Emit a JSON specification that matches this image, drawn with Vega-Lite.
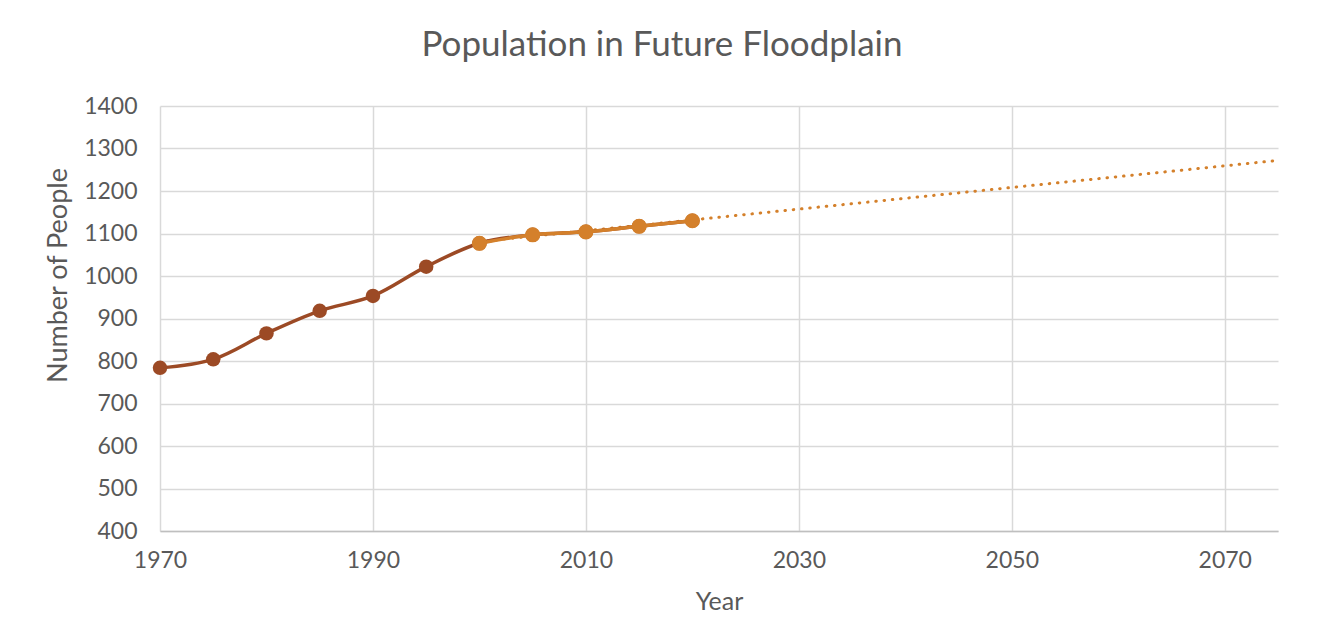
{
  "$schema": "https://vega.github.io/schema/vega-lite/v6.json",
  "autosize": {"type": "none"},
  "padding": {"left": 160, "top": 106, "right": 55, "bottom": 113},
  "width": 1118,
  "height": 425,
  "background": "white",
  "config": {
    "view": {"stroke": null},
    "font": "Lato",
    "axis": {"labelFont": "Lato", "titleFont": "Lato", "labelColor": "#595959", "titleColor": "#595959", "titleFontWeight": "normal", "gridColor": "#d9d9d9", "gridWidth": 1.5, "ticks": false}
  },
  "title": {
    "text": "Population in Future Floodplain",
    "font": "Lato",
    "fontSize": 35,
    "fontWeight": "normal",
    "color": "#595959",
    "anchor": "middle",
    "frame": "group",
    "dx": -57,
    "baseline": "alphabetic",
    "offset": 4
  },
  "datasets": {
    "pop": [
      {"year": 1970, "people": 784, "series": "Historic"},
      {"year": 1975, "people": 804, "series": "Historic"},
      {"year": 1980, "people": 865, "series": "Historic"},
      {"year": 1985, "people": 918, "series": "Historic"},
      {"year": 1990, "people": 953, "series": "Historic"},
      {"year": 1995, "people": 1022, "series": "Historic"},
      {"year": 2000, "people": 1077, "series": "Historic"},
      {"year": 2005, "people": 1097, "series": "Historic"},
      {"year": 2010, "people": 1104, "series": "Historic"},
      {"year": 2015, "people": 1117, "series": "Historic"},
      {"year": 2020, "people": 1130, "series": "Historic"},
      {"year": 2000, "people": 1077, "series": "Recent"},
      {"year": 2005, "people": 1097, "series": "Recent"},
      {"year": 2010, "people": 1104, "series": "Recent"},
      {"year": 2015, "people": 1117, "series": "Recent"},
      {"year": 2020, "people": 1130, "series": "Recent"}
    ],
    "trend": [
      {"year": 2000, "people": 1081},
      {"year": 2075, "people": 1272}
    ]
  },
  "encoding": {
    "x": {
      "field": "year", "type": "quantitative",
      "scale": {"domain": [1970, 2075], "nice": false, "zero": false},
      "axis": {"title": "Year", "values": [1970, 1990, 2010, 2030, 2050, 2070], "format": "d", "labelFontSize": 23, "labelPadding": 18, "titleFontSize": 25, "titleY": 70, "titleBaseline": "middle", "domainColor": "#bfbfbf", "domainWidth": 1.5, "labelFlush": false}
    },
    "y": {
      "field": "people", "type": "quantitative",
      "scale": {"domain": [400, 1400], "nice": false, "zero": false},
      "axis": {"title": "Number of People", "values": [400, 500, 600, 700, 800, 900, 1000, 1100, 1200, 1300, 1400], "format": "d", "labelFontSize": 23, "labelPadding": 23, "domain": false, "titleFontSize": 27, "titleAngle": -90, "titleX": -102, "titleY": 169, "titleAlign": "center", "titleBaseline": "middle"}
    }
  },
  "layer": [
    {
      "data": {"name": "trend"},
      "mark": {"type": "line", "color": "#D4802B", "strokeWidth": 3, "strokeDash": [0.5, 7.8], "strokeCap": "round"},
      "encoding": {}
    },
    {
      "data": {"name": "pop"},
      "transform": [{"filter": "datum.series === 'Historic'"}],
      "mark": {"type": "line", "color": "#9C4A25", "strokeWidth": 3.5, "interpolate": "catmull-rom", "point": {"filled": true, "size": 210, "color": "#9C4A25"}},
      "encoding": {}
    },
    {
      "data": {"name": "pop"},
      "transform": [{"filter": "datum.series === 'Recent'"}],
      "mark": {"type": "line", "color": "#D4802B", "strokeWidth": 3.5, "interpolate": "catmull-rom", "point": {"filled": true, "size": 230, "color": "#D4802B"}},
      "encoding": {}
    }
  ]
}
